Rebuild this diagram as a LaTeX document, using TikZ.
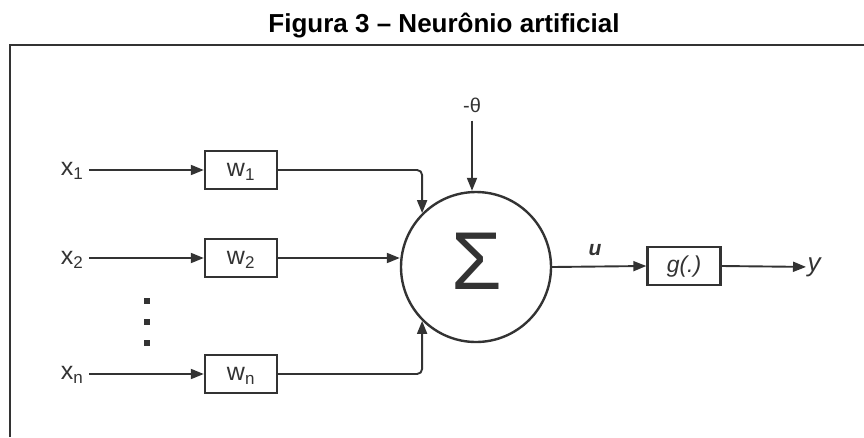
\documentclass[tikz,border=0pt]{standalone}
\usepackage{fontspec}
\setmainfont{Liberation Sans}
\usetikzlibrary{arrows.meta}
\definecolor{ink}{HTML}{333333}
\tikzset{
  arr/.style={draw=ink, line width=1.9pt, -{Triangle[length=13pt,width=10pt]}},
  wbox/.style={draw=ink, line width=2.4pt, minimum width=72pt, minimum height=38pt, inner sep=0pt, text=ink, font=\fontsize{25}{28}\selectfont, text height=13pt, text depth=0pt},
  lbl/.style={inner sep=0pt, text=ink, font=\fontsize{25}{28}\selectfont},
  dotsq/.style={fill=ink, minimum size=6.5pt, inner sep=0pt},
}
\newcommand{\subsz}[1]{\textsubscript{\fontsize{17}{20}\selectfont #1}}
\begin{document}
\begin{tikzpicture}[x=1pt,y=-1pt]
\useasboundingbox (0,0) rectangle (864,437);
% title
\node[anchor=base, inner sep=0pt, font=\bfseries\fontsize{26}{30}\selectfont] (title) at (444,32) {Figura 3 – Neurônio artificial};
% frame
\draw[line width=2pt, color=ink] (10,437) -- (10,45) -- (864,45);
% inputs
\node[lbl] (x1) at (72,171) {x\subsz{1}};
\node[lbl] (x2) at (72,260) {x\subsz{2}};
\node[lbl] (xn) at (72,375) {x\subsz{n}};
% weights
\node[wbox] (w1) at (241,170) {w\subsz{1}};
\node[wbox] (w2) at (241,258) {w\subsz{2}};
\node[wbox] (wn) at (241,374) {w\subsz{n}};
% dots
\node[dotsq] (d1) at (147,301) {};
\node[dotsq] (d2) at (147,322) {};
\node[dotsq] (d3) at (147,343) {};
% summation
\node[circle, draw=ink, line width=2.4pt, minimum size=150pt, inner sep=0pt] (sum) at (476,267) {};
\node[inner sep=0pt, text=ink, font=\fontsize{82}{82}\selectfont] (sigma) at (477,261) {Σ};
% bias
\node[lbl, font=\fontsize{20}{24}\selectfont] (theta) at (472,105) {-θ};
% activation
\node[wbox, minimum width=73pt, text height=16pt, text depth=4pt, font=\itshape\fontsize{23}{27}\selectfont] (g) at (684,266) {g(.)};
\node[lbl, font=\bfseries\itshape\fontsize{21}{25}\selectfont] (u) at (595,250) {u};
\node[lbl, font=\itshape\fontsize{26}{30}\selectfont] (y) at (814,267) {y};
% connectors
\draw[arr] ([xshift=6pt]x1.east |- w1.west) -- (w1.west);
\draw[arr] ([xshift=6pt]x2.east |- w2.west) -- (w2.west);
\draw[arr] ([xshift=6pt]xn.east |- wn.west) -- (wn.west);
\draw[arr, rounded corners=5pt] (w1.east) -| (sum.135);
\draw[arr] (w2.east) -- (w2.east -| sum.west);
\draw[arr, rounded corners=5pt] (wn.east) -| (sum.225);
\draw[arr, shorten <=8pt] (theta.south) -- (theta.south |- sum.north);
\draw[arr] (sum.east) -- (g.west);
\draw[arr, shorten >=8pt] (g.east) -- (y.west -| y.center);
\end{tikzpicture}
\end{document}
